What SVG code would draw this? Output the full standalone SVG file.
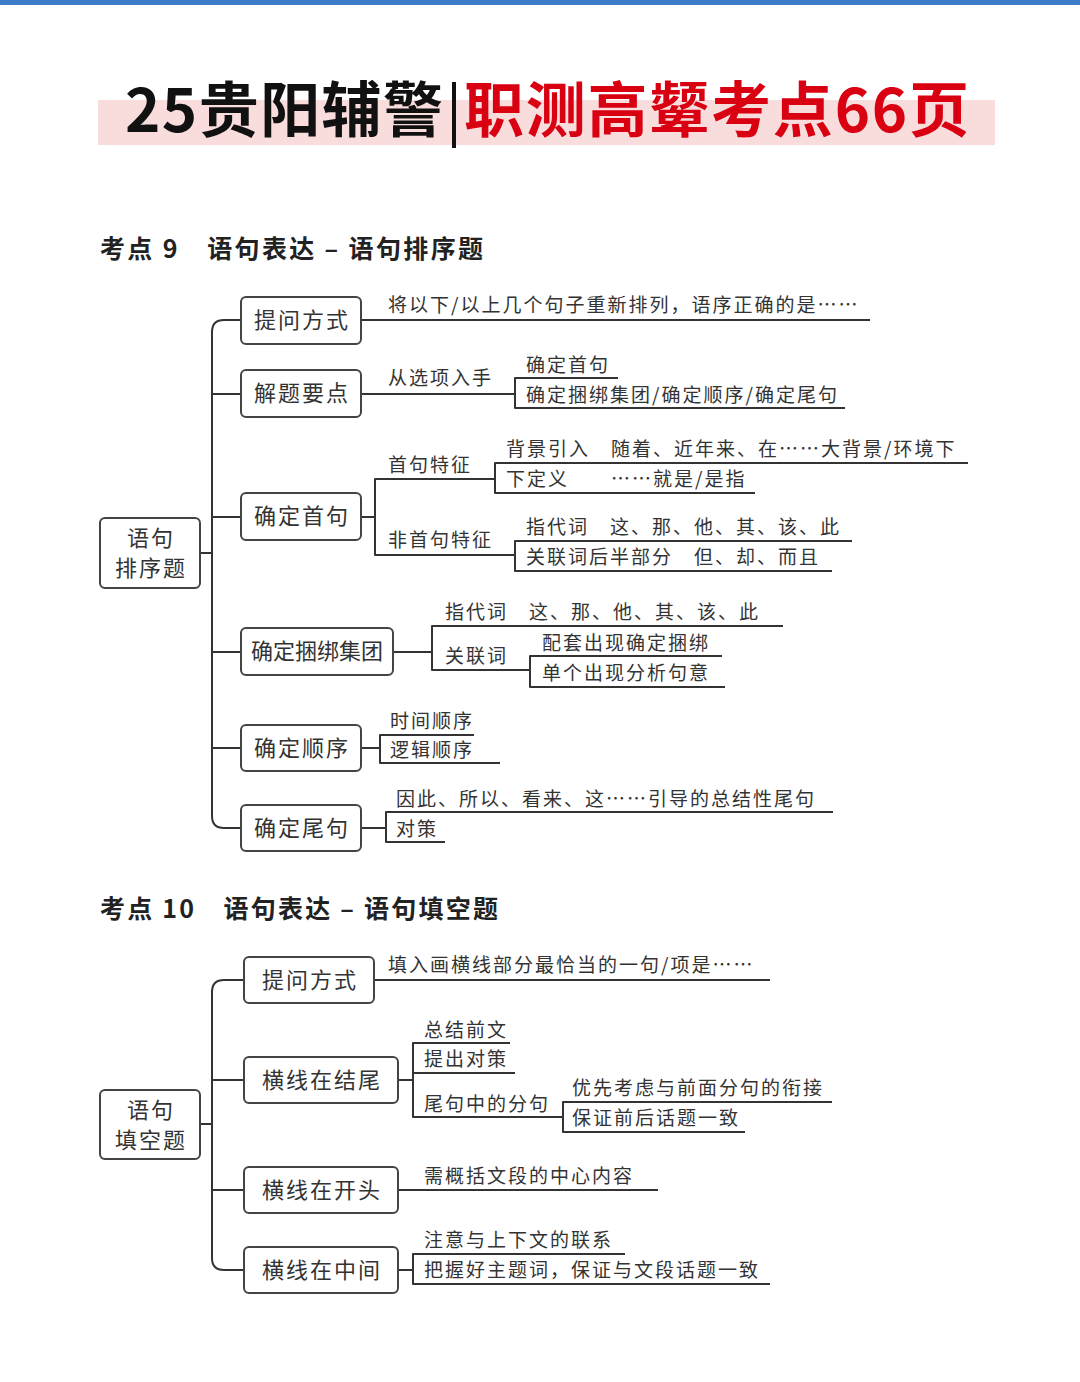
<svg xmlns="http://www.w3.org/2000/svg" width="1080" height="1382" viewBox="0 0 1080 1382">
<style>
.b{fill:#fff;stroke:#444;stroke-width:2}
.c{fill:none;stroke:#333;stroke-width:2;stroke-linejoin:round}
.t{font-family:"Noto Sans CJK SC",sans-serif;font-size:19px;fill:#333;letter-spacing:2px}
.n{font-family:"Noto Sans CJK SC",sans-serif;font-size:22px;fill:#333;text-anchor:middle;letter-spacing:2px}
.h{font-family:"Noto Sans CJK SC",sans-serif;font-size:25px;font-weight:bold;fill:#222}
</style>
<rect width="1080" height="1382" fill="#fff"/>
<rect width="1080" height="5" fill="#3d7cc9"/>
<rect x="98" y="100" width="897" height="45" fill="#f9dcdc"/>
<text x="125" y="132" font-family="Noto Sans CJK SC,sans-serif" font-size="60" font-weight="bold" fill="#111" textLength="318">25贵阳辅警</text>
<rect x="452" y="82" width="4" height="66" fill="#111"/>
<text x="464" y="132" font-family="Noto Sans CJK SC,sans-serif" font-size="60" font-weight="bold" fill="#d90012" textLength="505">职测高颦考点66页</text>
<text class="h" x="100" y="258" textLength="383">考点 9　语句表达 – 语句排序题</text>
<text class="h" x="100" y="918" textLength="398">考点 10　语句表达 – 语句填空题</text>
<g id="connectors">
<path class="c" d="M200 553H212M241 320H224Q212 320 212 332V816Q212 828 224 828H241M212 394H241M212 517H241M212 652H241M212 748H241"/>
<path class="c" d="M361 320H870"/>
<path class="c" d="M361 394H515M618 378H515V408H845"/>
<path class="c" d="M361 517H375M495 479H375V555H515M968 463H495V493H755M852 541H515V571H832"/>
<path class="c" d="M393 652H432M783 626H432V670H530M722 656H530V687H725"/>
<path class="c" d="M361 748H380M474 735H380V763H500"/>
<path class="c" d="M361 828H386M833 812H386V842H445"/>
<path class="c" d="M200 1124H212M244 980H224Q212 980 212 992V1258Q212 1270 224 1270H244M212 1080H244M212 1190H244"/>
<path class="c" d="M374 980H770"/>
<path class="c" d="M398 1080H413M510 1043H413V1117H563M515 1073H413M832 1102H563V1132H745"/>
<path class="c" d="M398 1190H658"/>
<path class="c" d="M398 1270H413M625 1254H413V1284H770"/>
</g>
<g id="r1"><rect class="b" x="100" y="518" width="100" height="70" rx="5"/><text class="n" x="151" y="546">语句</text><text class="n" x="151" y="576">排序题</text></g>
<g id="a1"><rect class="b" x="241" y="297" width="120" height="47" rx="5"/><text class="n" x="302" y="328">提问方式</text></g>
<g id="a2"><rect class="b" x="241" y="370" width="120" height="47" rx="5"/><text class="n" x="302" y="401">解题要点</text></g>
<g id="a3"><rect class="b" x="241" y="493" width="120" height="47" rx="5"/><text class="n" x="302" y="524">确定首句</text></g>
<g id="a4"><rect class="b" x="241" y="628" width="152" height="47" rx="5"/><text class="n" x="317" y="659" style="letter-spacing:0">确定捆绑集团</text></g>
<g id="a5"><rect class="b" x="241" y="725" width="120" height="46" rx="5"/><text class="n" x="302" y="756">确定顺序</text></g>
<g id="a6"><rect class="b" x="241" y="805" width="120" height="46" rx="5"/><text class="n" x="302" y="836">确定尾句</text></g>
<g id="l1">
<text class="t" x="388" y="312">将以下/以上几个句子重新排列，语序正确的是……</text>
<text class="t" x="388" y="385">从选项入手</text>
<text class="t" x="526" y="372">确定首句</text>
<text class="t" x="526" y="402">确定捆绑集团/确定顺序/确定尾句</text>
<text class="t" x="388" y="472">首句特征</text>
<text class="t" x="506" y="456">背景引入　随着、近年来、在……大背景/环境下</text>
<text class="t" x="506" y="486">下定义　　……就是/是指</text>
<text class="t" x="388" y="547">非首句特征</text>
<text class="t" x="526" y="534">指代词　这、那、他、其、该、此</text>
<text class="t" x="526" y="564">关联词后半部分　但、却、而且</text>
<text class="t" x="445" y="619">指代词　这、那、他、其、该、此</text>
<text class="t" x="445" y="663">关联词</text>
<text class="t" x="542" y="650">配套出现确定捆绑</text>
<text class="t" x="542" y="680">单个出现分析句意</text>
<text class="t" x="390" y="728">时间顺序</text>
<text class="t" x="390" y="757">逻辑顺序</text>
<text class="t" x="396" y="806">因此、所以、看来、这……引导的总结性尾句</text>
<text class="t" x="396" y="836">对策</text>
</g>
<g id="r2"><rect class="b" x="100" y="1090" width="100" height="69" rx="5"/><text class="n" x="151" y="1118">语句</text><text class="n" x="151" y="1148">填空题</text></g>
<g id="b1"><rect class="b" x="244" y="957" width="130" height="46" rx="5"/><text class="n" x="310" y="988">提问方式</text></g>
<g id="b2"><rect class="b" x="244" y="1057" width="154" height="46" rx="5"/><text class="n" x="322" y="1088">横线在结尾</text></g>
<g id="b3"><rect class="b" x="244" y="1167" width="154" height="46" rx="5"/><text class="n" x="322" y="1198">横线在开头</text></g>
<g id="b4"><rect class="b" x="244" y="1247" width="154" height="46" rx="5"/><text class="n" x="322" y="1278">横线在中间</text></g>
<g id="l2">
<text class="t" x="388" y="972">填入画横线部分最恰当的一句/项是……</text>
<text class="t" x="424" y="1037">总结前文</text>
<text class="t" x="424" y="1066">提出对策</text>
<text class="t" x="424" y="1111">尾句中的分句</text>
<text class="t" x="572" y="1095">优先考虑与前面分句的衔接</text>
<text class="t" x="572" y="1125">保证前后话题一致</text>
<text class="t" x="424" y="1183">需概括文段的中心内容</text>
<text class="t" x="424" y="1247">注意与上下文的联系</text>
<text class="t" x="424" y="1277">把握好主题词，保证与文段话题一致</text>
</g>
</svg>
